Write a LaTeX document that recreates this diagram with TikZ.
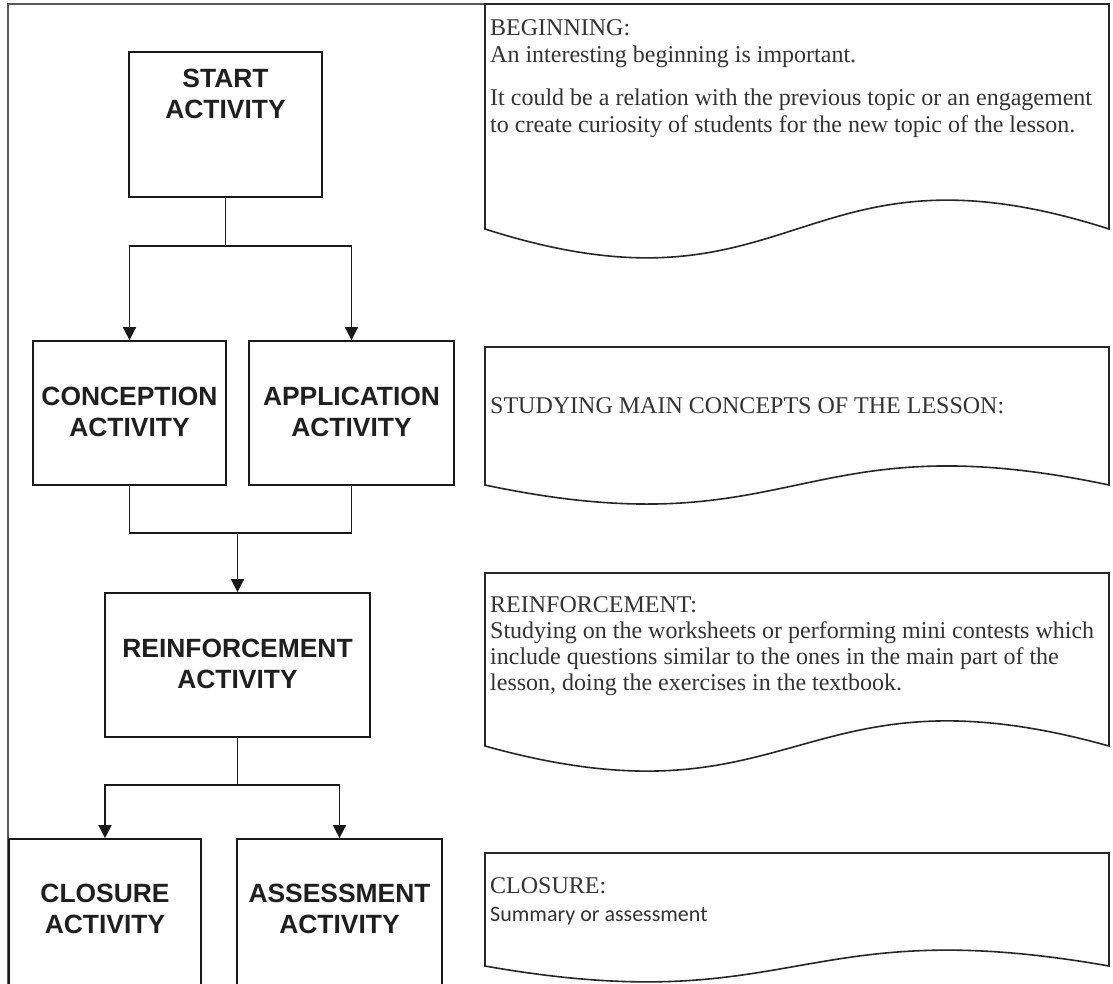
\documentclass[tikz,border=0pt]{standalone}
\usepackage{fontspec}
\setmainfont{Liberation Serif}
\newfontfamily\boxfont{Liberation Sans}
\newfontfamily\calfont{Carlito}
\usetikzlibrary{arrows.meta}
\newcommand{\mydoc}[5]{\draw[docline] (#1,#4) -- (#1,#3) -- (#2,#3) -- (#2,#4) .. controls ({(#1+#2)/2},{#4-#5}) and ({(#1+#2)/2},{#4+#5}) .. (#1,#4) -- cycle;}
\begin{document}
\begin{tikzpicture}[x=1pt,y=-1pt,
  actbox/.style={draw=black!90, line width=1.8pt, inner sep=0pt},
  acttext/.style={font=\boxfont\bfseries\fontsize{26.4}{31}\selectfont, align=center, text=black!88, inner sep=0pt},
  conn/.style={line width=1.8pt, draw=black!90},
  arr/.style={conn, -{Triangle[length=13pt,width=13pt]}},
  docline/.style={line width=1.6pt, draw=black!85},
  doctext/.style={font=\fontsize{24}{27}\selectfont, align=left, anchor=base west, inner sep=0pt, text=black!80}]
\clip (0,0) rectangle (1113,984);
\fill[white] (0,0) rectangle (1113,984);
% frame
\draw[line width=1.3pt, black!65] (8,984) -- (8,4) -- (485,4);
% activity boxes
\node[actbox, minimum width=193pt, minimum height=145pt] (start) at (225.5,124.5) {};
\node[acttext] (startT) at (225.5,93.5) {START\\ACTIVITY};
\node[actbox, minimum width=193pt, minimum height=144pt] (conc) at (129.5,413) {};
\node[acttext] (concT) at (129.5,411.5) {CONCEPTION\\ACTIVITY};
\node[actbox, minimum width=205pt, minimum height=144pt] (app) at (351.5,413) {};
\node[acttext] (appT) at (351.5,411.5) {APPLICATION\\ACTIVITY};
\node[actbox, minimum width=265pt, minimum height=144pt] (reinf) at (237.5,665) {};
\node[acttext] (reinfT) at (237.5,663.5) {REINFORCEMENT\\ACTIVITY};
\node[actbox, minimum width=192pt, minimum height=150pt] (clo) at (105,914) {};
\node[acttext] (cloT) at (105,908.5) {CLOSURE\\ACTIVITY};
\node[actbox, minimum width=205pt, minimum height=150pt] (ass) at (339.5,914) {};
\node[acttext] (assT) at (339.5,908.5) {ASSESSMENT\\ACTIVITY};
% connectors
\coordinate (j1) at (225.5,246);
\coordinate (j2) at (237.5,533);
\coordinate (j3) at (237.5,785);
\draw[conn] (start.south) -- (j1);
\draw[arr] (j1) -| (conc.north);
\draw[arr] (j1) -| (app.north);
\draw[conn] (conc.south) |- (j2) -| (app.south);
\draw[arr] (j2) -- (reinf.north);
\draw[conn] (reinf.south) -- (j3);
\draw[arr] (j3) -| (clo.north);
\draw[arr] (j3) -| (ass.north);
% document shapes
\mydoc{485}{1109}{4}{229}{100}
\mydoc{485}{1109}{347}{485}{66}
\mydoc{485}{1109}{573}{746}{87}
\mydoc{485}{1109}{853}{966}{55}
% document texts
\node[doctext] (d1) at (490,133) {BEGINNING:\\An interesting beginning is important.\\[16pt]It could be a relation with the previous topic or an engagement\\to create curiosity of students for the new topic of the lesson.};
\node[doctext] (d2) at (490,413) {STUDYING MAIN CONCEPTS OF THE LESSON:};
\node[doctext, font=\fontsize{24}{26}\selectfont] (d3) at (490,690) {REINFORCEMENT:\\Studying on the worksheets or performing mini contests which\\include questions similar to the ones in the main part of the\\lesson, doing the exercises in the textbook.};
\node[doctext] (d4) at (490,893) {CLOSURE:};
\node[doctext, font=\calfont\fontsize{22}{26}\selectfont] (d4b) at (490,921) {Summary or assessment};
\end{tikzpicture}
\end{document}
